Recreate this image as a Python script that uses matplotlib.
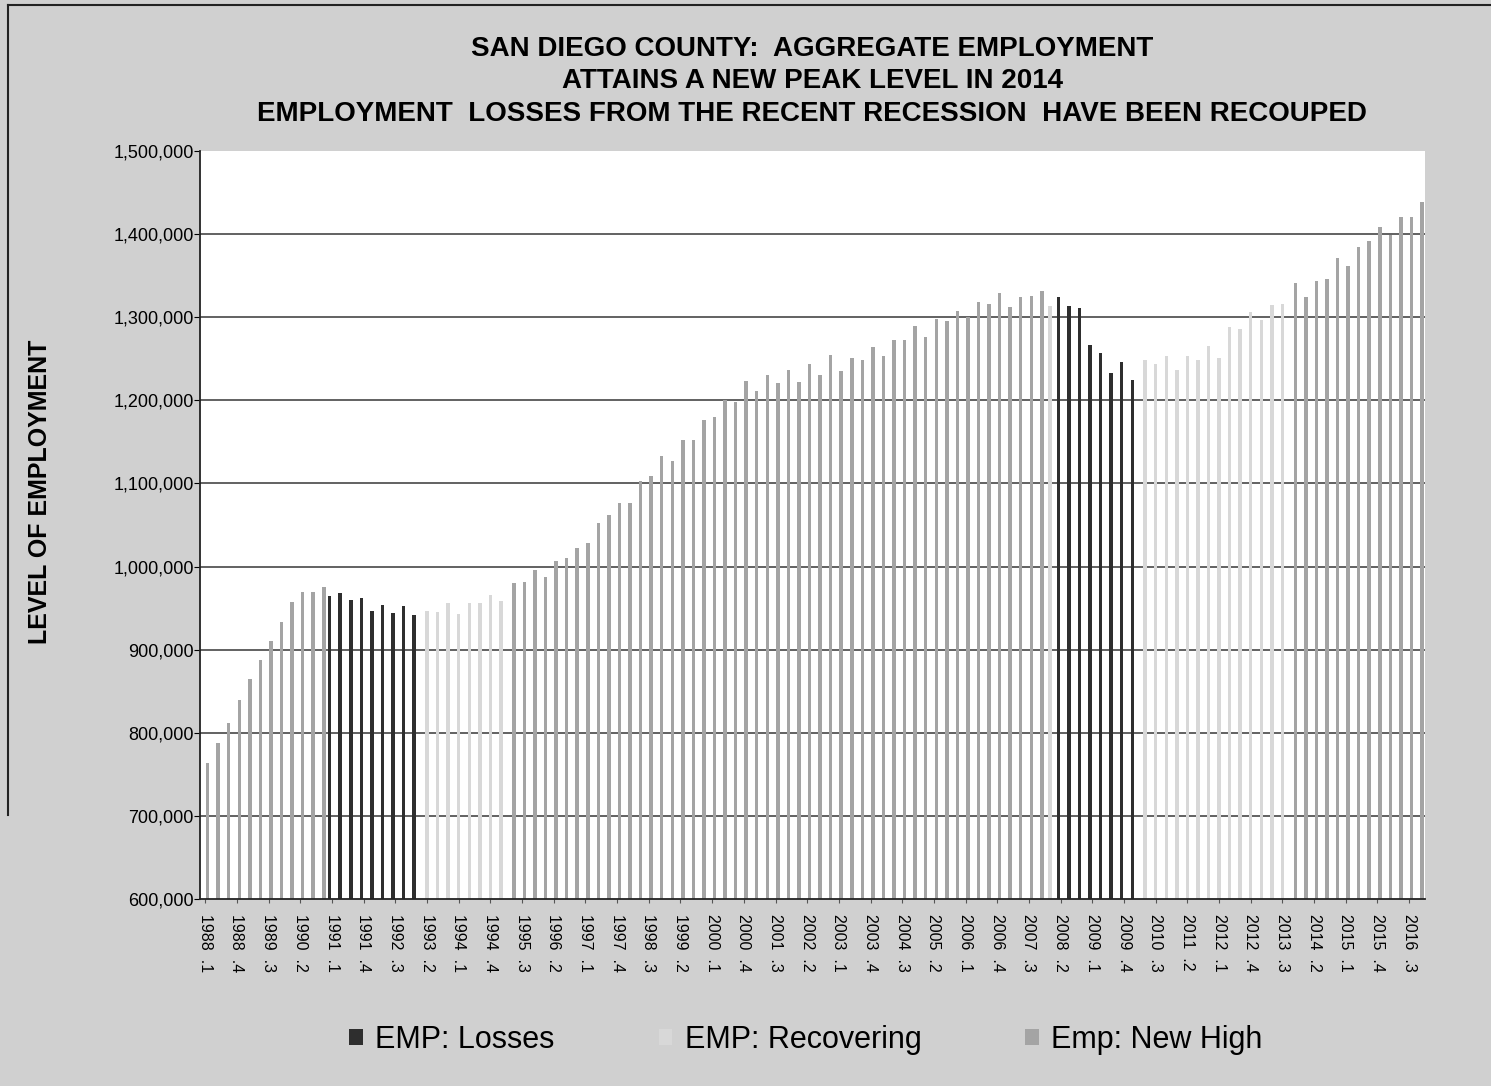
import matplotlib
matplotlib.use("Agg")
import matplotlib.pyplot as plt
from matplotlib.lines import Line2D
from matplotlib.patches import Patch
import numpy as np

plt.rcParams["font.family"] = ["Liberation Sans", "DejaVu Sans"]

# Quarterly employment, 1988 Q1 .. 2016 Q4
start_year = 1988
employment = [
    764000, 788000, 812000, 840000, 865000, 887000, 910000, 933000,
    957000, 969000, 969000, 976000, 965000, 968000, 960000, 962000,
    946000, 954000, 944000, 952000, 942000, 947000, 945000, 956000,
    943000, 956000, 956000, 966000, 958000, 980000, 982000, 996000,
    988000, 1007000, 1010000, 1022000, 1028000, 1053000, 1062000, 1076000,
    1076000, 1103000, 1109000, 1133000, 1127000, 1152000, 1152000, 1176000,
    1180000, 1200000, 1198000, 1223000, 1211000, 1231000, 1221000, 1236000,
    1222000, 1244000, 1231000, 1254000, 1235000, 1251000, 1249000, 1264000,
    1253000, 1273000, 1272000, 1290000, 1276000, 1298000, 1296000, 1307000,
    1300000, 1318000, 1316000, 1329000, 1312000, 1324000, 1325000, 1331000,
    1314000, 1324000, 1314000, 1311000, 1266000, 1257000, 1233000, 1246000,
    1224000, 1249000, 1244000, 1253000, 1237000, 1253000, 1249000, 1265000,
    1251000, 1288000, 1286000, 1306000, 1297000, 1315000, 1316000, 1341000,
    1324000, 1344000, 1346000, 1371000, 1362000, 1384000, 1392000, 1408000,
    1399000, 1420000, 1420000, 1439000,
]
# Phase of each quarter: L = losses, R = recovering, H = new high
phase = (
    "H" * 12 + "L" * 9 + "R" * 8 + "H" * 51 + "R" + "L" * 8 + "R" * 14 + "H" * 13
)

series_names = ["EMP: Losses", "EMP: Recovering", "Emp: New High"]
series_codes = ["L", "R", "H"]
series_colors = ["#2e2e2e", "#d8d8d8", "#a4a4a4"]

y_ticks = [600000, 700000, 800000, 900000, 1000000, 1100000,
           1200000, 1300000, 1400000, 1500000]

n = len(employment)
quarter_labels = [f"{start_year + i // 4}  .{i % 4 + 1}" for i in range(n)]

W, H = 1491, 1086
fig = plt.figure(figsize=(W / 100, H / 100), dpi=100, facecolor="#d0d0d0")
ax = fig.add_axes([200 / W, 1 - 899 / H, 1225 / W, 748 / H])
ax.set_facecolor("white")

idx = np.arange(n)
vals = np.array(employment, dtype=float)
codes = np.array(list(phase))
offsets = [-0.22, 0.0, 0.22]
bar_w = 0.33
for name, code, color, off in zip(series_names, series_codes, series_colors, offsets):
    mask = codes == code
    ax.bar(idx[mask] + off, vals[mask], width=bar_w, color=color,
           linewidth=0, label=name, zorder=2)

ax.set_xlim(-0.5, n - 0.5)
ax.set_ylim(y_ticks[0], y_ticks[-1])
ax.set_yticks(y_ticks)
ax.set_yticklabels([f"{v:,}" for v in y_ticks], fontsize=13)
for v in y_ticks[1:-1]:
    ax.axhline(v, color="#555555", linewidth=1.3, zorder=1)

label_pos = idx[::3]
ax.set_xticks(label_pos)
ax.set_xticklabels([quarter_labels[i] for i in label_pos], rotation=-90,
                   fontsize=11.5, va="top", ha="center")
ax.tick_params(axis="x", length=3, pad=8, color="#555555")
ax.tick_params(axis="y", length=4, pad=0.5)

for s in ["top", "right"]:
    ax.spines[s].set_visible(False)
ax.spines["left"].set_color("#222222")
ax.spines["bottom"].set_color("#222222")
ax.spines["left"].set_linewidth(1.3)
ax.spines["bottom"].set_linewidth(1.3)

title_lines = [
    "SAN DIEGO COUNTY:  AGGREGATE EMPLOYMENT",
    "ATTAINS A NEW PEAK LEVEL IN 2014",
    "EMPLOYMENT  LOSSES FROM THE RECENT RECESSION  HAVE BEEN RECOUPED",
]
for line, yp in zip(title_lines, [49, 81, 114]):
    fig.text(812 / W, 1 - yp / H, line, ha="center", va="center",
             fontsize=20, fontweight="bold")

fig.text(40 / W, 1 - 492 / H, "LEVEL OF EMPLOYMENT", rotation=90,
         ha="center", va="center", fontsize=18, fontweight="bold")

handles = [Patch(facecolor=c, edgecolor="none") for c in series_colors]
fig.legend(handles, series_names, loc="center", ncol=3,
           bbox_to_anchor=(806 / W, 1 - 1040 / H), frameon=False,
           fontsize=22, handlelength=0.45, handleheight=0.45,
           handletextpad=0.4, columnspacing=3.4)

# outer border on the left and top edges
fig.add_artist(Line2D([8 / W, 8 / W], [1 - 5 / H, 1 - 815 / H],
                      transform=fig.transFigure, color="#222222", linewidth=1.5))
fig.add_artist(Line2D([8 / W, 1.0], [1 - 5 / H, 1 - 5 / H],
                      transform=fig.transFigure, color="#222222", linewidth=1.5))

fig.savefig("out.png", dpi=100, facecolor=fig.get_facecolor())
